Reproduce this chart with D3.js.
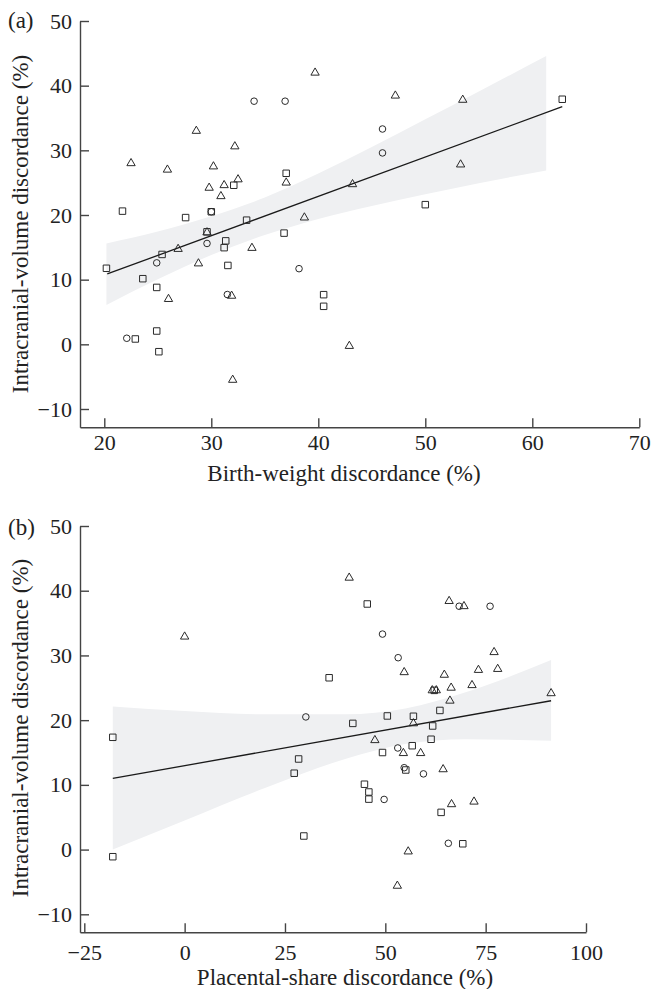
<!DOCTYPE html>
<html><head><meta charset="utf-8">
<script src="https://cdn.jsdelivr.net/npm/d3@7"></script>
<style>
body{margin:0;background:#fff}
svg{display:block}
text{font-family:"Liberation Serif","Times New Roman",serif;fill:#222}
</style>
</head><body>
<svg id="c" width="652" height="989"></svg>
<script>
// ---------- Panel (a): birth-weight discordance ----------
const aTriX = [39.7,28.6,22.5,25.9,30.2,32.2,29.8,31.2,32.5,30.9,37.0,38.7,47.2,53.5,53.3,43.2,42.9,26.9,28.8,26.0,31.9,32.0,33.8,29.6];
const aTriY = [42.0,33.0,28.0,27.0,27.5,30.6,24.2,24.6,25.5,22.9,25.0,19.6,38.45,37.8,27.8,24.75,-0.26,14.74,12.5,7.0,7.5,-5.5,14.9,17.3];
const aCirX = [34.0,36.9,46.0,46.0,30.0,29.6,24.9,38.2,31.5,22.1];
const aCirY = [37.6,37.6,33.3,29.6,20.5,15.6,12.6,11.7,7.7,0.94];
const aSqX  = [62.8,37.0,32.1,21.7,27.6,30.0,33.3,50.0,29.6,31.35,31.2,31.55,25.4,20.2,23.6,24.9,24.9,22.9,25.1,36.8,40.5,40.5];
const aSqY  = [37.9,26.45,24.6,20.6,19.6,20.5,19.2,21.6,17.4,16.0,14.95,12.2,13.9,11.76,10.15,8.8,2.06,0.83,-1.14,17.2,7.68,5.88];
const aFitX = [20.28,62.8];
const aFitY = [10.88,36.75];
const aBandX  = [20.2,25,30,35,40,45,50,55,61.3];
const aBandLo = [6.1,10.05,13.8,16.9,19.4,21.4,23.2,24.9,26.9];
const aBandHi = [15.6,17.45,19.8,22.7,26.4,30.5,34.8,39.1,44.6];
const aXTicks = [20,30,40,50,60,70];

// ---------- Panel (b): placental-share discordance ----------
const bTriX = [41.0,0.0,65.9,69.6,77.1,54.7,64.7,73.2,78.0,71.6,66.4,61.7,62.7,66.1,91.3,57.0,54.5,58.8,64.4,47.4,66.5,72.1,55.7,53.0];
const bTriY = [42.0,32.9,38.4,37.6,30.5,27.4,27.0,27.75,27.9,25.4,25.0,24.6,24.6,23.0,24.15,19.5,14.9,14.9,12.4,16.9,7.0,7.4,-0.3,-5.6];
const bCirX = [68.4,76.1,49.3,53.2,30.2,53.1,54.7,49.7,59.5,65.7];
const bCirY = [37.6,37.6,33.3,29.65,20.5,15.7,12.65,7.75,11.7,0.97];
const bSqX  = [-17.9,-17.9,28.4,27.3,29.7,45.5,36.0,41.9,50.5,57.0,49.3,56.7,55.1,44.8,45.9,45.9,63.6,61.8,61.4,63.9,69.3,62.2];
const bSqY  = [17.35,-1.1,14.0,11.8,2.1,37.95,26.55,19.5,20.65,20.6,15.0,16.05,12.3,10.1,8.9,7.8,21.5,19.1,17.05,5.75,0.9,24.6];
const bFitX = [-17.9,91.3];
const bFitY = [11.0,23.0];
const bBandX  = [-17.9,0,20,40,55,70,91.3];
const bBandLo = [0.0,4.5,9.5,14.0,16.3,17.05,16.8];
const bBandHi = [22.1,21.4,20.9,20.9,21.8,24.3,29.3];
const bXTicks = [-25,0,25,50,75,100];

const yTicks = [-10,0,10,20,30,40,50];

const svg = d3.select("#c");

function panel(cfg){
  const g = svg.append("g");
  const x = d3.scaleLinear().domain(cfg.xDom).range(cfg.xRange);
  const y = d3.scaleLinear().domain(cfg.yDom).range(cfg.yRange);

  // confidence band
  const band = cfg.bandX.map((v,i)=>({x:v,lo:cfg.bandLo[i],hi:cfg.bandHi[i]}));
  g.append("path").datum(band)
    .attr("fill","#eff0f2")
    .attr("d", d3.area().x(d=>x(d.x)).y0(d=>y(d.lo)).y1(d=>y(d.hi)).curve(d3.curveMonotoneX));

  // fit line
  const fit = cfg.fitX.map((v,i)=>({x:v,y:cfg.fitY[i]}));
  g.append("path").datum(fit)
    .attr("fill","none").attr("stroke","#1a1a1a").attr("stroke-width",1.3)
    .attr("d", d3.line().x(d=>x(d.x)).y(d=>y(d.y)));

  // markers
  const groups = [
    {xs:cfg.triX, ys:cfg.triY, type:d3.symbolTriangle, size:30},
    {xs:cfg.cirX, ys:cfg.cirY, type:d3.symbolCircle, size:34},
    {xs:cfg.sqX,  ys:cfg.sqY,  type:d3.symbolSquare, size:42}
  ];
  groups.forEach(gr=>{
    const pts = gr.xs.map((v,i)=>({x:v,y:gr.ys[i]}));
    g.append("g").selectAll("path").data(pts).join("path")
      .attr("transform",d=>`translate(${x(d.x)},${y(d.y)})`)
      .attr("d", d3.symbol().type(gr.type).size(gr.size))
      .attr("fill","none").attr("stroke","#2a2a2a").attr("stroke-width",1);
  });

  // axes
  const xa = g.append("g").attr("transform",`translate(0,${cfg.yRange[0]})`)
    .call(d3.axisBottom(x).tickValues(cfg.xTicks).tickSizeInner(-9).tickSizeOuter(0).tickPadding(cfg.xPad));
  const ya = g.append("g").attr("transform",`translate(${cfg.xRange[0]},0)`)
    .call(d3.axisLeft(y).tickValues(yTicks).tickSizeInner(-9).tickSizeOuter(0).tickPadding(8));
  [xa,ya].forEach(a=>{
    a.select(".domain").attr("stroke","#444").attr("stroke-width",1.4);
    a.selectAll(".tick line").attr("stroke","#444").attr("stroke-width",1.4);
    a.selectAll(".tick text").attr("font-size",22).attr("fill","#222")
      .style("font-family",'"Liberation Serif","Times New Roman",serif');
  });

  // titles
  g.append("text").attr("x",cfg.xTitlePos[0]).attr("y",cfg.xTitlePos[1])
    .attr("text-anchor","middle").attr("font-size",23).text(cfg.xTitle);
  g.append("text").attr("transform",`translate(${cfg.yTitlePos[0]},${cfg.yTitlePos[1]}) rotate(-90)`)
    .attr("text-anchor","middle").attr("font-size",23).text("Intracranial-volume discordance (%)");
  g.append("text").attr("x",8).attr("y",cfg.labelY).attr("font-size",23).text(cfg.label);
}

panel({
  xDom:[17.73,70], xRange:[80,639.3], yDom:[-12.83,50], yRange:[427.3,21],
  triX:aTriX, triY:aTriY, cirX:aCirX, cirY:aCirY, sqX:aSqX, sqY:aSqY,
  fitX:aFitX, fitY:aFitY, bandX:aBandX, bandLo:aBandLo, bandHi:aBandHi,
  xTicks:aXTicks, xPad:7,
  xTitle:"Birth-weight discordance (%)", xTitlePos:[344,481], yTitlePos:[28,224],
  label:"(a)", labelY:28
});
panel({
  xDom:[-26.07,100], xRange:[80,586], yDom:[-12.78,50], yRange:[932.3,526],
  triX:bTriX, triY:bTriY, cirX:bCirX, cirY:bCirY, sqX:bSqX, sqY:bSqY,
  fitX:bFitX, fitY:bFitY, bandX:bBandX, bandLo:bBandLo, bandHi:bBandHi,
  xTicks:bXTicks, xPad:12.5,
  xTitle:"Placental-share discordance (%)", xTitlePos:[345,985], yTitlePos:[28,728],
  label:"(b)", labelY:535
});
</script>
</body></html>
